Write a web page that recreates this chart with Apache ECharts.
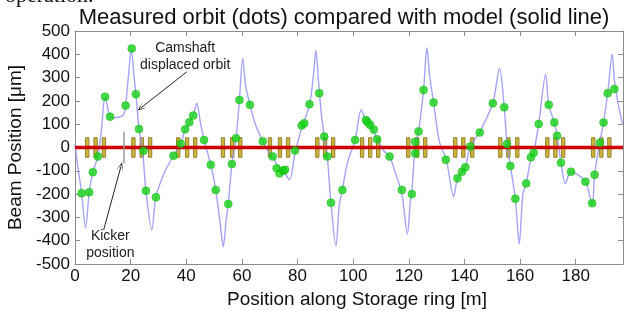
<!DOCTYPE html>
<html><head><meta charset="utf-8">
<script src="https://cdn.jsdelivr.net/npm/echarts@6/dist/echarts.min.js"></script>
<style>html,body{margin:0;padding:0;background:#fff}#c{width:624px;height:311px}</style>
</head><body><div id="c"></div>
<script>
// ---- DATA ----
const titleText = 'Measured orbit (dots) compared with model (solid line)';
const xAxisName = 'Position along Storage ring [m]';
const yAxisName = 'Beam Position [\u03bcm]';
const xTickLabels = [0, 20, 40, 60, 80, 100, 120, 140, 160, 180];
const yTickLabels = [-500, -400, -300, -200, -100, 0, 100, 200, 300, 400, 500];

// model orbit (solid line)
const modelX = [0,1,2.4,3.8,5.1,6.4,8.2,9.5,10.8,12.6,14,16,17.4,18.2,19.3,20.2,21.2,21.9,23.0,24.3,25.5,27.6,29.1,32,35.4,38,39.6,41.1,42.5,43.8,45,46.4,48.8,50.6,52.2,53.3,54.3,55.1,56.4,57.9,59.1,60.3,61.3,62.9,65,67.5,69,71.1,73,75,77.1,79.1,81.5,84.3,85.8,86.6,87.5,88.5,89.6,90.7,92,93.8,95,96.1,98,100.7,102.9,104.6,106.1,107.6,108.7,111,113.1,115,117.5,119.5,120.5,121.1,122.3,123.5,125.3,126.5,127.5,128.9,131,133.5,136.1,137.5,139.1,140.3,142.1,145.4,150.2,152.6,154.3,155.3,156.5,158.3,159.7,161,162.2,164,164.9,166.7,169.2,170.3,172.3,173.3,174.7,176.3,178.3,183.5,185.9,186.8,188.6,190,191.5,193.1,193.9,195.5,197];
const modelY = [16,-82,-196,-346,-192,-106,-39,74,218,132,128,131,140,180,319,422,309,229,83,-14,-186,-353,-213,-112,-35,16,78,108,137,190,113,32,-74,-182,-327,-426,-317,-242,-71,40,204,383,270,183,94,28,-9,-39,-82,-102,-139,-24,84,182,319,418,289,152,47,-39,-237,-423,-249,-182,-63,32,161,118,94,64,32,-14,-39,-102,-200,-371,-239,-190,6,68,247,428,309,193,25,-53,-210,-132,-104,-85,4,65,190,340,173,16,-79,-220,-414,-200,-154,-43,-21,101,314,183,107,51,-65,-154,-104,-147,-247,-117,20,107,233,400,289,172,97];

// measured orbit (dots)
const measX = [2.4,5.1,6.4,8.2,10.8,12.6,18.2,20.4,21.9,23.0,24.6,25.5,29.1,35.4,38.0,39.6,41.1,42.5,46.4,48.8,50.6,55.1,56.4,57.9,59.1,62.9,67.5,71.1,72.5,73.5,74.9,75.5,79.1,81.5,82.4,84.3,87.8,89.6,90.7,92.0,96.1,100.7,104.6,105.2,106.1,107.4,108.6,113.1,117.5,121.1,122.3,122.3,123.5,125.3,128.9,133.3,137.5,139.1,140.3,142.1,145.5,150.2,154.3,155.3,156.5,158.3,162.2,163.9,164.9,166.7,170.3,172.3,173.3,174.7,178.3,183.5,185.9,186.8,188.7,190.0,191.5,193.9];
const measY = [-196,-192,-106,-39,218,132,180,425,229,79,-14,-186,-213,-35,16,78,108,137,32,-74,-182,-242,-71,40,204,183,27,-39,-89,-111,-99,-96,-13,94,104,186,233,47,-39,-237,-182,32,118,108,97,77,35,-39,-182,-200,25,-25,69,247,193,-53,-132,-104,-85,4,64,190,173,15,-79,-220,-154,-42,-23,101,183,107,50,-65,-104,-147,-239,-117,20,107,233,251];

// magnet positions along the ring [m]
const magnetPos = [4.4,7.4,10.4, 21.0,24.0,27.0, 37.1,40.3,43.2, 53.2,56.5,59.4, 70.1,73.7,76.6, 87.1,89.9,92.8, 103.2,106.1,109.0, 119.8,123.0,125.9, 136.7,139.6,142.8, 152.9,155.8,159.0, 169.8,172.7,175.5, 186.3,189.2,192.1];
const kickerPos = 17.4;

// ---- sizes / styles ----
const magnetHalfW = 0.6, magnetHalfH = 42, kickerHalfH = 68;
const FONT = '"Liberation Sans", Arial, sans-serif';
const AX = '#8c8c8c';

const model = modelX.map((x, i) => [x, modelY[i]]);
const meas = measX.map((x, i) => [x, measY[i]]);
const magnets = magnetPos.map(x => [x]);

const chart = echarts.init(document.getElementById('c'), null, {renderer: 'canvas'});

function baseX(pos, showLabel) {
  return {
    type: 'value', min: 0, max: 197, interval: 20, position: pos,
    axisLine: {show: true, onZero: false, lineStyle: {color: AX, width: 1}},
    axisTick: {show: true, inside: true, length: 5, lineStyle: {color: AX}},
    axisLabel: {show: showLabel, fontSize: 17, fontFamily: FONT, color: '#111', margin: 4, showMaxLabel: false,
      formatter: v => xTickLabels.indexOf(v) >= 0 ? String(v) : ''},
    splitLine: {show: false}
  };
}
function baseY(pos, showLabel) {
  return {
    type: 'value', min: -500, max: 500, interval: 100, position: pos,
    axisLine: {show: true, onZero: false, lineStyle: {color: AX, width: 1}},
    axisTick: {show: true, inside: true, length: 5, lineStyle: {color: AX}},
    axisLabel: {show: showLabel, fontSize: 17, fontFamily: FONT, color: '#111', margin: 5,
      formatter: v => yTickLabels.indexOf(v) >= 0 ? String(v) : ''},
    splitLine: {show: false}
  };
}

const xb = baseX('bottom', true);
xb.name = xAxisName; xb.nameLocation = 'middle'; xb.nameGap = 24;
xb.nameTextStyle = {fontSize: 19, fontFamily: FONT, color: '#111', padding: [0, 0, 0, 16]};
const yl = baseY('left', true);
yl.name = yAxisName; yl.nameLocation = 'middle'; yl.nameGap = 47;
yl.nameTextStyle = {fontSize: 19, fontFamily: FONT, color: '#111'};

const arrowSym = 'path://M0,10 L5,0 L10,10 L5,3 Z';

chart.setOption({
  animation: false,
  backgroundColor: '#fff',
  grid: {left: 75, right: 1, top: 31, bottom: 47, containLabel: false, outerBoundsMode: 'none'},
  xAxis: [xb, baseX('top', false)],
  yAxis: [yl, baseY('right', false)],
  series: [
    {
      type: 'custom', name: 'magnets', z: 1, data: magnets, silent: true,
      renderItem: function (params, api) {
        const x = api.value(0);
        const p1 = api.coord([x - magnetHalfW, magnetHalfH]);
        const p2 = api.coord([x + magnetHalfW, -magnetHalfH]);
        return {type: 'rect', shape: {x: p1[0], y: p1[1], width: p2[0] - p1[0], height: p2[1] - p1[1]},
          style: {fill: '#cdb53a', stroke: '#948230', lineWidth: 1}};
      }
    },
    {
      type: 'line', name: 'model', z: 2, data: model, showSymbol: false, smooth: 0.3,
      lineStyle: {color: '#9494f0', width: 1.4, opacity: 0.85}
    },
    {
      type: 'line', name: 'zero', z: 3, data: [[0, 0], [197, 0]], showSymbol: false,
      lineStyle: {color: '#cc0000', width: 3.5},
      markLine: {
        silent: true, animation: false, label: {show: false},
        data: [
          [{coord: [kickerPos, kickerHalfH], symbol: 'none', lineStyle: {color: '#9a9a9a', width: 1.5, type: 'solid'}},
           {coord: [kickerPos, -kickerHalfH], symbol: 'none'}],
          [{coord: [40.2, 325], symbol: 'none', lineStyle: {color: '#222', width: 1, type: 'solid'}},
           {coord: [23.8, 171], symbol: arrowSym, symbolSize: [7, 9]}],
          [{coord: [10.3, -354], symbol: 'none', lineStyle: {color: '#222', width: 1, type: 'solid'}},
           {coord: [16.5, -82], symbol: arrowSym, symbolSize: [7, 9]}]
        ]
      }
    },
    {
      type: 'scatter', name: 'measured', z: 4, data: meas, symbol: 'circle', symbolSize: 8,
      itemStyle: {color: '#14d214', borderColor: '#0fb00f', borderWidth: 0.5}
    }
  ]
});

const camP = chart.convertToPixel({xAxisIndex: 0, yAxisIndex: 0}, [39.6, 390]);
const kickP = chart.convertToPixel({xAxisIndex: 0, yAxisIndex: 0}, [12.7, -418]);
chart.setOption({
  graphic: [
    {type: 'text', x: 344, y: 7, style: {text: titleText, font: '22px ' + FONT, fill: '#111', textAlign: 'center', textVerticalAlign: 'top'}},
    {type: 'text', x: 5, y: 7, style: {text: 'operation.', font: '22px "Liberation Serif", "Times New Roman", serif', fill: '#111', textAlign: 'left', textVerticalAlign: 'bottom'}},
    {type: 'text', x: camP[0], y: camP[1], z: 10, style: {text: 'Camshaft\ndisplaced orbit', font: '14px ' + FONT, lineHeight: 17, fill: '#222', textAlign: 'center', textVerticalAlign: 'middle'}},
    {type: 'text', x: kickP[0], y: kickP[1], z: 10, style: {text: 'Kicker\nposition', font: '14px ' + FONT, lineHeight: 17, fill: '#222', textAlign: 'center', textVerticalAlign: 'middle'}}
  ]
});
</script>
</body></html>
